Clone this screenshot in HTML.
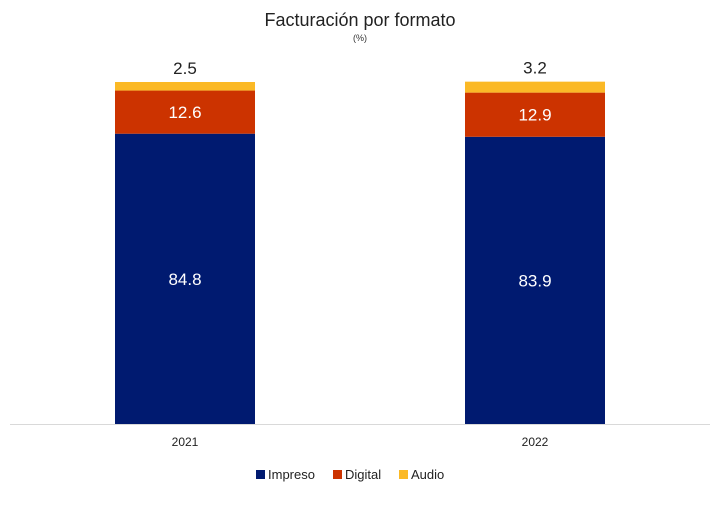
<!DOCTYPE html>
<html><head><meta charset="utf-8"><style>
html,body{margin:0;padding:0;background:#fff;width:720px;height:506px;overflow:hidden}
svg{font-family:"Liberation Sans",sans-serif}
</style></head><body>
<svg id="c" width="720" height="506">
<text x="360" y="26" text-anchor="middle" font-size="18" fill="#222">Facturación por formato</text>
<text x="360" y="41" text-anchor="middle" font-size="9" fill="#333">(%)</text>
<line x1="10" y1="424.5" x2="710" y2="424.5" stroke="#d9d9d9" stroke-width="1"/>
<g id="bars"></g>
<g>
<rect x="256" y="470" width="9" height="9" fill="#001a70"/>
<text x="268" y="479" font-size="13" fill="#222">Impreso</text>
<rect x="333" y="470" width="9" height="9" fill="#cc3300"/>
<text x="345" y="479" font-size="13" fill="#222">Digital</text>
<rect x="399" y="470" width="9" height="9" fill="#fbb926"/>
<text x="411" y="479" font-size="13" fill="#222">Audio</text>
</g>
</svg>
<script>
const categories = ["2021", "2022"];
const impreso = [84.8, 83.9];
const digital = [12.6, 12.9];
const audio = [2.5, 3.2];
const seriesNames = ["impreso", "digital", "audio"];
const colors = ["#001a70", "#cc3300", "#fbb926"];
const base = 424, top0 = 82, maxV = 99.9;
const y = v => base - v / maxV * (base - top0);
const xCenter = i => 185 + i * 350;
const bw = 140;
const g = document.getElementById('bars');
const NS = "http://www.w3.org/2000/svg";
categories.forEach((cat, i) => {
  const vals = [impreso[i], digital[i], audio[i]];
  let cum = 0;
  vals.forEach((v, s) => {
    const y0 = y(cum), y1 = y(cum + v);
    const r = document.createElementNS(NS, 'rect');
    r.setAttribute('x', xCenter(i) - bw / 2);
    r.setAttribute('y', y1);
    r.setAttribute('width', bw);
    r.setAttribute('height', y0 - y1);
    r.setAttribute('fill', colors[s]);
    
    
    g.appendChild(r);
    const t = document.createElementNS(NS, 'text');
    t.setAttribute('x', xCenter(i));
    t.setAttribute('text-anchor', 'middle');
    t.setAttribute('font-size', '17');
    if (s === 2) { t.setAttribute('y', y1 - 8); t.setAttribute('fill', '#222'); }
    else { t.setAttribute('y', (y0 + y1) / 2 + 6); t.setAttribute('fill', '#fff'); }
    t.textContent = v.toFixed(1);
    
    
    g.appendChild(t);
    cum += v;
  });
  const tl = document.createElementNS(NS, 'text');
  tl.setAttribute('x', xCenter(i));
  tl.setAttribute('y', 446);
  tl.setAttribute('text-anchor', 'middle');
  tl.setAttribute('font-size', '12');
  tl.setAttribute('fill', '#222');
  tl.textContent = cat;
  
  
  g.appendChild(tl);
});
</script>
</body></html>
